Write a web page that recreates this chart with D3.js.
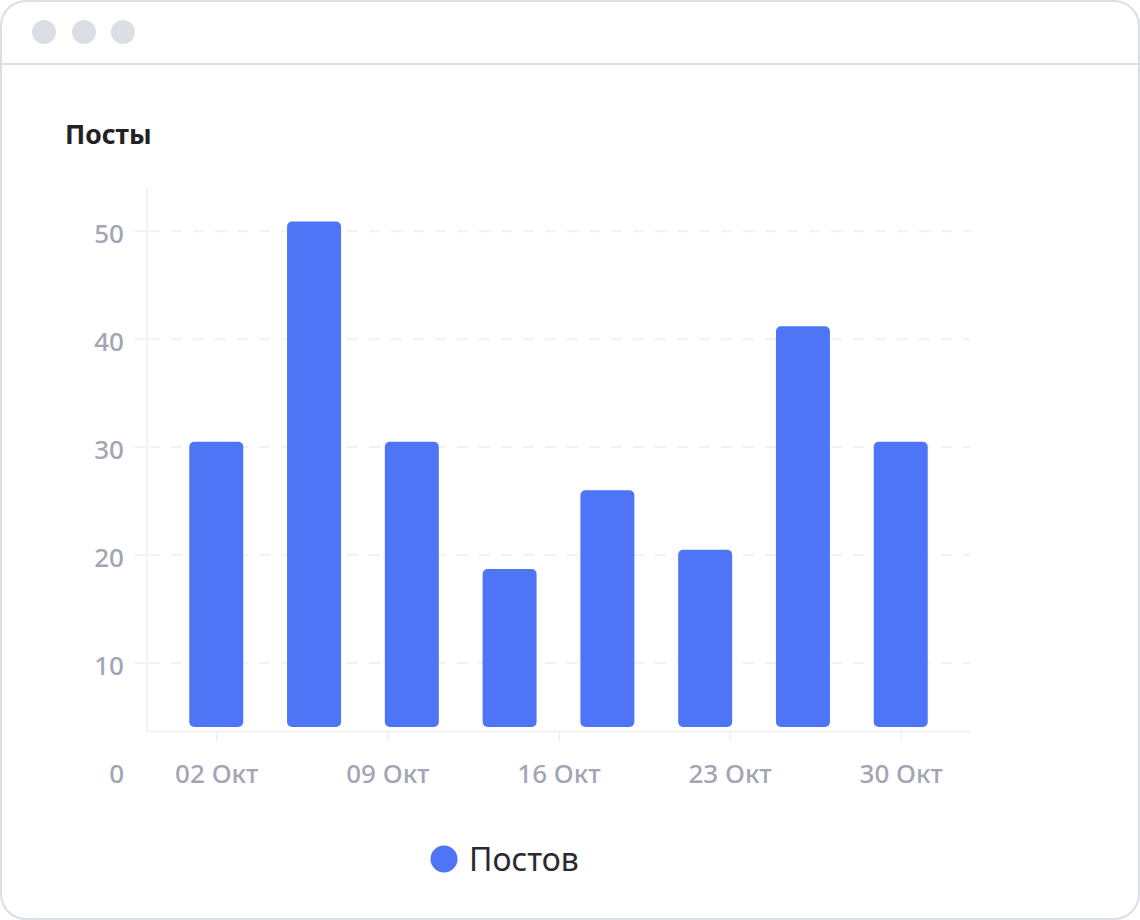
<!DOCTYPE html>
<html>
<head>
<meta charset="utf-8">
<script src="https://cdn.jsdelivr.net/npm/d3@7"></script>
<style>
    html, body { margin: 0; padding: 0; background: #fff; }
    svg { display: block; font-family: "Noto Sans", "Open Sans", sans-serif; }
</style>
</head>
<body>
<div id="chart"></div>
<script>
// Data
const dates = ['2023-10-02', '2023-10-06', '2023-10-10', '2023-10-14', '2023-10-18', '2023-10-22', '2023-10-26', '2023-10-30'];
const posts = [30.5, 50.9, 30.5, 18.7, 26.0, 20.5, 41.2, 30.5];
const xTickDates = ['2023-10-02', '2023-10-09', '2023-10-16', '2023-10-23', '2023-10-30'];
const yTicks = [0, 10, 20, 30, 40, 50];
const seriesName = 'Постов';
const chartTitle = 'Посты';

const W = 1140, H = 920;
const BAR_COLOR = '#4e75f5';
const LABEL_COLOR = '#a3a5b4';
const LINE_COLOR = '#f1f2f6';

const svg = d3.select('#chart')
    .append('svg')
    .attr('width', W)
    .attr('height', H);

// Window frame
svg.append('rect')
    .attr('x', 1).attr('y', 1)
    .attr('width', W - 2).attr('height', H - 2)
    .attr('rx', 25)
    .attr('fill', '#fff')
    .attr('stroke', '#dcdee5')
    .attr('stroke-width', 2);

svg.append('line')
    .attr('x1', 1).attr('x2', W - 1)
    .attr('y1', 64).attr('y2', 64)
    .attr('stroke', '#dcdee5')
    .attr('stroke-width', 2);

svg.selectAll('.dot')
    .data([44, 84, 123])
    .enter()
    .append('circle')
    .attr('class', 'dot')
    .attr('cx', d => d)
    .attr('cy', 32)
    .attr('r', 12)
    .attr('fill', '#dcdee6');

// Title
svg.append('text')
    .attr('x', 65)
    .attr('y', 144)
    .attr('font-size', 26.5)
    .attr('font-weight', 700)
    .attr('fill', '#222226')
    .text(chartTitle);

// Plot frame
const plot = { left: 147, right: 970, top: 188, bottom: 731 };
const parse = d3.utcParse('%Y-%m-%d');

const first = parse(dates[0]);
const last = parse(dates[dates.length - 1]);
const x = d3.scaleUtc()
    .domain([d3.utcHour.offset(first, -68), d3.utcHour.offset(last, 68)])
    .range([plot.left, plot.right]);

const y = d3.scaleLinear()
    .domain([0, 54])
    .range([771, plot.top]);

const barWidth = x(d3.utcHour.offset(first, 53)) - x(first);

// Grid lines (only inside the plot area)
const gridTicks = yTicks.filter(t => y(t) < plot.bottom);
svg.append('g')
    .selectAll('line')
    .data(gridTicks)
    .enter()
    .append('line')
    .attr('x1', plot.left + 2)
    .attr('x2', plot.right)
    .attr('y1', d => y(d))
    .attr('y2', d => y(d))
    .attr('stroke', LINE_COLOR)
    .attr('stroke-width', 2)
    .attr('stroke-dasharray', '11 11');

// Y axis line and tick marks
svg.append('line')
    .attr('x1', plot.left).attr('x2', plot.left)
    .attr('y1', plot.top).attr('y2', plot.bottom + 2)
    .attr('stroke', LINE_COLOR)
    .attr('stroke-width', 2);

svg.append('g')
    .selectAll('line')
    .data(gridTicks)
    .enter()
    .append('line')
    .attr('x1', 135).attr('x2', plot.left)
    .attr('y1', d => y(d)).attr('y2', d => y(d))
    .attr('stroke', LINE_COLOR)
    .attr('stroke-width', 2);

svg.append('g')
    .selectAll('text')
    .data(yTicks)
    .enter()
    .append('text')
    .attr('x', 124)
    .attr('y', d => y(d) + 11.5)
    .attr('text-anchor', 'end')
    .attr('font-size', 26)
    .attr('font-weight', 500)
    .attr('fill', LABEL_COLOR)
    .text(d => d);

// X axis
const xAxis = d3.axisBottom(x)
    .tickValues(xTickDates.map(parse))
    .tickSize(10)
    .tickSizeOuter(0)
    .tickPadding(0)
    .tickFormat(d => d3.utcFormat('%d')(d) + ' Окт');

const gx = svg.append('g')
    .attr('transform', `translate(0,${plot.bottom})`)
    .call(xAxis);

gx.select('.domain')
    .attr('stroke', LINE_COLOR)
    .attr('stroke-width', 2);
gx.selectAll('.tick line')
    .attr('stroke', LINE_COLOR)
    .attr('stroke-width', 2);
gx.selectAll('.tick text')
    .attr('y', 52)
    .attr('dy', null)
    .attr('font-size', 26)
    .attr('font-weight', 500)
    .attr('font-family', '"Noto Sans", "Open Sans", sans-serif')
    .attr('fill', LABEL_COLOR);

// Bars
svg.append('g')
    .selectAll('rect')
    .data(dates.map((d, i) => ({ date: parse(d), value: posts[i] })))
    .enter()
    .append('rect')
    .attr('x', d => x(d.date) - barWidth / 2)
    .attr('y', d => y(d.value))
    .attr('width', barWidth)
    .attr('height', d => plot.bottom - 4 - y(d.value))
    .attr('rx', 5)
    .attr('fill', BAR_COLOR);

// Legend
const legend = svg.append('g').attr('transform', 'translate(444,859)');
legend.append('circle')
    .attr('r', 13.5)
    .attr('fill', BAR_COLOR);
legend.append('text')
    .attr('x', 25)
    .attr('y', 11.5)
    .attr('font-size', 32)
    .attr('font-weight', 400)
    .attr('fill', '#2a2a2e')
    .text(seriesName);
</script>
</body>
</html>
